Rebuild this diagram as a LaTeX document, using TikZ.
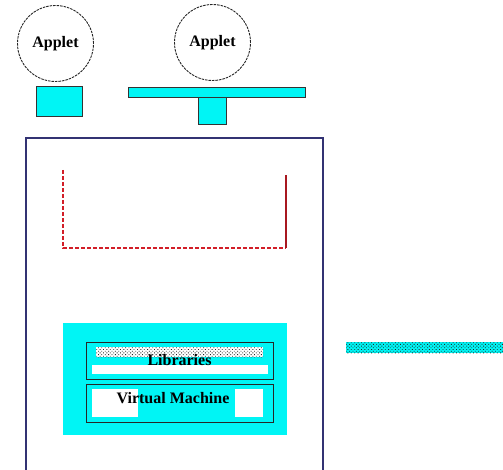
\documentclass[tikz,border=0pt]{standalone}
\usepackage{fontspec}
\setmainfont{Liberation Serif}
\usetikzlibrary{positioning,patterns.meta}
\definecolor{hostblue}{RGB}{50,50,115}
\definecolor{sandred}{RGB}{210,30,40}
\definecolor{jrecyan}{RGB}{0,245,245}

\begin{document}
\begin{tikzpicture}[
  x=1pt, y=-1pt,
  font=\fontsize{16}{16}\selectfont\bfseries,
  applet/.style={draw=black!85, circle, dash pattern=on 2.5pt off 1pt, line width=0.9pt, minimum size=76pt, inner sep=0pt},
  plug/.style={draw=black!80, fill=jrecyan, line width=0.9pt, inner sep=0pt},
  layer/.style={draw=black!85, line width=1pt, inner sep=0pt, minimum width=187pt},
  blank/.style={fill=white, inner sep=0pt},
  dotty/.style={postaction={pattern={Dots[distance=2.4pt, radius=0.6pt, angle=45]}, pattern color=black!85}}
]
  \useasboundingbox (0,0) rectangle (503,470);

  % applets and their plugs
  \node[applet] (app1) at (55.5,43.5) {Applet};
  \node[applet] (app2) at (212.5,42.5) {Applet};
  \node[plug, minimum width=46pt, minimum height=30pt] (port1) at (59,101) {};
  \node[plug, minimum width=28pt, minimum height=27pt] (port2) at (212,110.5) {};
  \node[plug, minimum width=177pt, minimum height=10pt] (rail) at (216.5,92) {};

  % host machine
  \node[draw=hostblue, line width=1.2pt, minimum width=297pt, minimum height=334pt, inner sep=0pt] (host) at (174.5,305) {};

  % sandbox outline
  \coordinate (sbTL) at (63,170);
  \coordinate (sbBL) at (63,248);
  \coordinate (sbBR) at (286,248);
  \coordinate (sbTR) at (286,175);
  \draw[draw=sandred, line width=1.4pt, dash pattern=on 4pt off 2pt] (sbTL) -- (sbBL) -- (sbBR);
  \draw[draw=sandred!80!black, line width=1.2pt] (sbBR) -- (sbTR);

  % runtime
  \node[fill=jrecyan, minimum width=224pt, minimum height=112pt, inner sep=0pt] (jre) at (175,379) {};
  \node[blank, dotty, minimum width=167pt, minimum height=10pt] (libdots) at (179.5,352) {};
  \node[blank, minimum width=176pt, minimum height=9pt] (libgap) at (180,369.5) {};
  \node[layer, minimum height=37pt] (libs) at (179.5,360.5) {Libraries};
  \node[blank, minimum width=46pt, minimum height=28pt] (vmgapL) at (115,403) {};
  \node[blank, minimum width=28pt, minimum height=28pt] (vmgapR) at (249,403) {};
  \node[layer, minimum height=38pt] (vm) at (179.5,403) {};
  \node (vmtext) at (173,398) {Virtual Machine};

  % network link
  \node[fill=jrecyan, dotty, minimum width=157pt, minimum height=11pt, inner sep=0pt] (wire) at (424.5,347.5) {};
\end{tikzpicture}
\end{document}
